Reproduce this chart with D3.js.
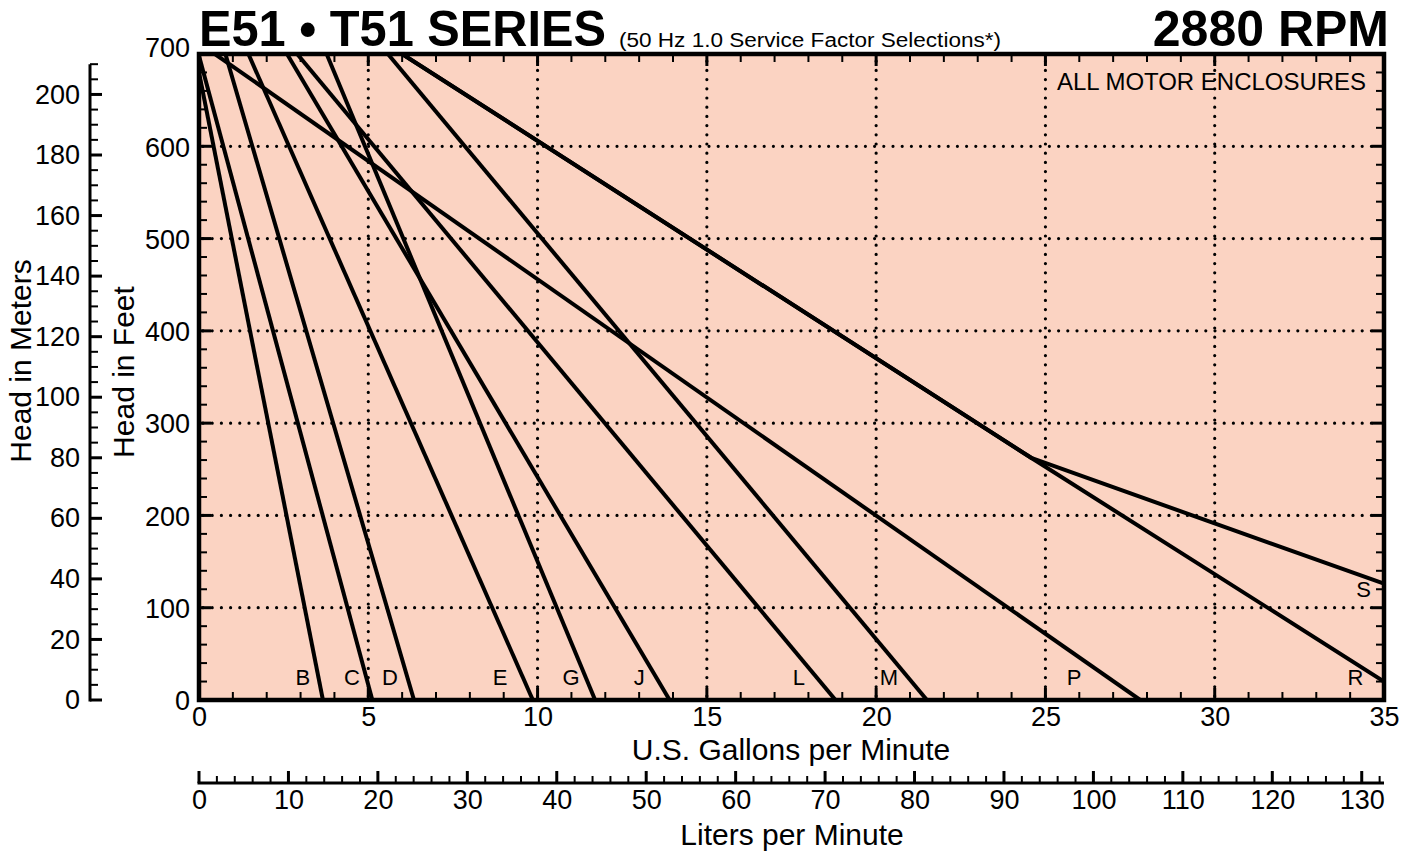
<!DOCTYPE html>
<html><head><meta charset="utf-8">
<script src="https://cdn.jsdelivr.net/npm/d3@7"></script>
<style>
body{margin:0;background:#fff}
svg{display:block}
text{font-family:"Liberation Sans",Arial,Helvetica,sans-serif;fill:#000}
</style></head><body>
<svg id="c" width="1404" height="855"></svg>
<script>
// ---- data ----
const curveNames = ["B","C","D","E","G","J","L","M","P","R","S"];
// each curve: list of [gpm, feet] points
const curveB = [[0,680],[3.66,0]];
const curveC = [[0,698],[5.12,0]];
const curveD = [[0.78,700],[6.35,0]];
const curveE = [[1.46,700],[9.86,0]];
const curveG = [[3.77,700],[11.7,0]];
const curveJ = [[2.6,700],[13.9,0]];
const curveL = [[2.9,700],[18.8,0]];
const curveM = [[5.58,700],[21.5,0]];
const curveP = [[0.47,700],[27.8,0]];
const curveR = [[6.0,700],[24.6,262],[35,20]];
const curveS = [[6.0,700],[24.6,262],[35,126]];
const curves = [curveB,curveC,curveD,curveE,curveG,curveJ,curveL,curveM,curveP,curveR,curveS];
// label anchors [gpm, feet]
const labelGpm  = [3.07,4.52,5.64,8.89,10.99,13.0,17.72,20.38,25.85,34.16,34.4];
const labelFeet = [19,19,19,19,19,19,19,19,19,19,115];

const feetTicks = [0,100,200,300,400,500,600,700];
const gpmTicks = [0,5,10,15,20,25,30,35];
const meterTicks = [0,20,40,60,80,100,120,140,160,180,200];
const literTicks = [0,10,20,30,40,50,60,70,80,90,100,110,120,130];

const title = "E51 \u2022 T51 SERIES";
const subtitle = "(50 Hz 1.0 Service Factor Selections*)";
const rpmText = "2880 RPM";
const noteText = "ALL MOTOR ENCLOSURES";

// ---- chart ----
const svg = d3.select("#c");
const x = d3.scaleLinear([0,35],[199,1384]);
const y = d3.scaleLinear([0,700],[700,54]);
const FT_PER_M = 3.28084, L_PER_GAL = 3.78541;
const ym = d3.scaleLinear([0,210],[y(0), y(210*FT_PER_M)]);
const xl = d3.scaleLinear([0,35*L_PER_GAL],[x(0), x(35)]);

const bg = "#fbd3c2";
svg.append("rect").attr("x",x(0)).attr("y",y(700)).attr("width",x(35)-x(0)).attr("height",y(0)-y(700)).attr("fill",bg);

// dotted grid
const grid = svg.append("g").attr("stroke","#000").attr("stroke-width",3.2).attr("stroke-linecap","round").attr("stroke-dasharray","0 9.2");
grid.selectAll("line.v").data(gpmTicks.filter(d=>d>0&&d<35)).join("line")
  .attr("x1",d=>x(d)).attr("x2",d=>x(d)).attr("y1",y(0)-4).attr("y2",y(700)+4);
grid.selectAll("line.h").data(feetTicks.filter(d=>d>0&&d<700)).join("line")
  .attr("y1",d=>y(d)).attr("y2",d=>y(d)).attr("x1",x(0)+4).attr("x2",x(35)-4);

// inner ticks
const tk = svg.append("g").attr("stroke","#000").attr("stroke-width",2);
const gMinor = d3.range(1,35);
tk.selectAll("line.b").data(gMinor).join("line")
  .attr("x1",d=>x(d)).attr("x2",d=>x(d)).attr("y1",y(0)).attr("y2",d=>y(0)-(d%5===0?12:8))
  .attr("stroke-width",d=>d%5===0?3:2);
tk.selectAll("line.t").data(gMinor).join("line")
  .attr("x1",d=>x(d)).attr("x2",d=>x(d)).attr("y1",y(700)).attr("y2",d=>y(700)+(d%5===0?12:8))
  .attr("stroke-width",d=>d%5===0?3:2);
const fMinor = d3.range(20,700,20);
tk.selectAll("line.l").data(fMinor).join("line")
  .attr("y1",d=>y(d)).attr("y2",d=>y(d)).attr("x1",x(0)).attr("x2",d=>x(0)+(d%100===0?12:8))
  .attr("stroke-width",d=>d%100===0?3:2);
tk.selectAll("line.r").data(fMinor).join("line")
  .attr("y1",d=>y(d)).attr("y2",d=>y(d)).attr("x1",x(35)).attr("x2",d=>x(35)-(d%100===0?12:8))
  .attr("stroke-width",d=>d%100===0?3:2);

// curves
const line = d3.line().x(d=>x(d[0])).y(d=>y(d[1]));
svg.append("clipPath").attr("id","pc").append("rect")
  .attr("x",x(0)).attr("y",y(700)).attr("width",x(35)-x(0)).attr("height",y(0)-y(700));
svg.append("g").attr("clip-path","url(#pc)").selectAll("path").data(curves).join("path")
  .attr("d",line).attr("fill","none").attr("stroke","#000").attr("stroke-width",4).attr("stroke-linejoin","round");

// curve labels
svg.append("g").selectAll("text").data(curveNames).join("text")
  .attr("x",(d,i)=>x(labelGpm[i])).attr("y",(d,i)=>y(labelFeet[i])+3)
  .attr("text-anchor","middle").attr("font-size",22).text(d=>d);

// frame
svg.append("rect").attr("x",x(0)).attr("y",y(700)).attr("width",x(35)-x(0)).attr("height",y(0)-y(700))
  .attr("fill","none").attr("stroke","#000").attr("stroke-width",4.5);

const FS = 27;
// feet axis labels
const fAx = svg.append("g").attr("transform",`translate(${x(0)-3},0)`)
  .call(d3.axisLeft(y).tickValues(feetTicks).tickSize(0).tickPadding(6));
fAx.select(".domain").remove();
fAx.selectAll("text").attr("font-size",FS).attr("font-family",null).attr("dy","0.36em");
fAx.selectAll(".tick").filter(d=>d===700).select("text").attr("dy","0.1em");

// gpm axis labels
const gAx = svg.append("g").attr("transform",`translate(0,${y(0)+2})`)
  .call(d3.axisBottom(x).tickValues(gpmTicks).tickSize(0).tickPadding(5));
gAx.select(".domain").remove();
gAx.selectAll("text").attr("font-size",FS).attr("font-family",null);

// meters axis
const mX = 90;
const mAx = svg.append("g").attr("transform",`translate(${mX},0)`);
mAx.append("line").attr("x1",0).attr("x2",0).attr("y1",ym(0)+1.5).attr("y2",ym(210)).attr("stroke","#000").attr("stroke-width",3);
mAx.selectAll("line.m").data(d3.range(0,211,5)).join("line")
  .attr("x1",0).attr("x2",d=>d%20===0?12:8).attr("y1",d=>ym(d)).attr("y2",d=>ym(d))
  .attr("stroke","#000").attr("stroke-width",d=>d%20===0?3:2);
const mLab = svg.append("g").attr("transform",`translate(${mX-4},0)`)
  .call(d3.axisLeft(ym).tickValues(meterTicks).tickSize(0).tickPadding(6));
mLab.select(".domain").remove();
mLab.selectAll("text").attr("font-size",FS).attr("font-family",null);

// liters axis
const lY = 783;
const lAx = svg.append("g").attr("transform",`translate(0,${lY})`);
lAx.append("line").attr("x1",xl(0)-1.5).attr("x2",x(35)).attr("y1",0).attr("y2",0).attr("stroke","#000").attr("stroke-width",3);
lAx.selectAll("line.l").data(d3.range(0,133,2)).join("line")
  .attr("x1",d=>xl(d)).attr("x2",d=>xl(d)).attr("y1",0).attr("y2",d=>d%10===0?-12:-7)
  .attr("stroke","#000").attr("stroke-width",d=>d%10===0?3:2);
const lLab = svg.append("g").attr("transform",`translate(0,${lY+2})`)
  .call(d3.axisBottom(xl).tickValues(literTicks).tickSize(0).tickPadding(5));
lLab.select(".domain").remove();
lLab.selectAll("text").attr("font-size",FS).attr("font-family",null);

// axis titles
svg.append("text").attr("x",791).attr("y",760).attr("text-anchor","middle").attr("font-size",30).text("U.S. Gallons per Minute");
svg.append("text").attr("x",792).attr("y",845).attr("text-anchor","middle").attr("font-size",30).text("Liters per Minute");
svg.append("text").attr("transform","translate(134,372) rotate(-90)").attr("text-anchor","middle").attr("font-size",30).text("Head in Feet");
svg.append("text").attr("transform","translate(31,361) rotate(-90)").attr("text-anchor","middle").attr("font-size",30).text("Head in Meters");

// titles
svg.append("text").attr("x",199).attr("y",46).attr("font-size",50).attr("font-weight","bold").attr("textLength",407).attr("lengthAdjust","spacingAndGlyphs").text(title);
svg.append("text").attr("x",619).attr("y",47).attr("font-size",20).attr("textLength",382).attr("lengthAdjust","spacingAndGlyphs").text(subtitle);
svg.append("text").attr("x",1389).attr("y",46).attr("font-size",50).attr("font-weight","bold").attr("text-anchor","end").text(rpmText);
svg.append("text").attr("x",1057).attr("y",90).attr("font-size",24).attr("textLength",309).attr("lengthAdjust","spacingAndGlyphs").text(noteText);
</script>
</body></html>
